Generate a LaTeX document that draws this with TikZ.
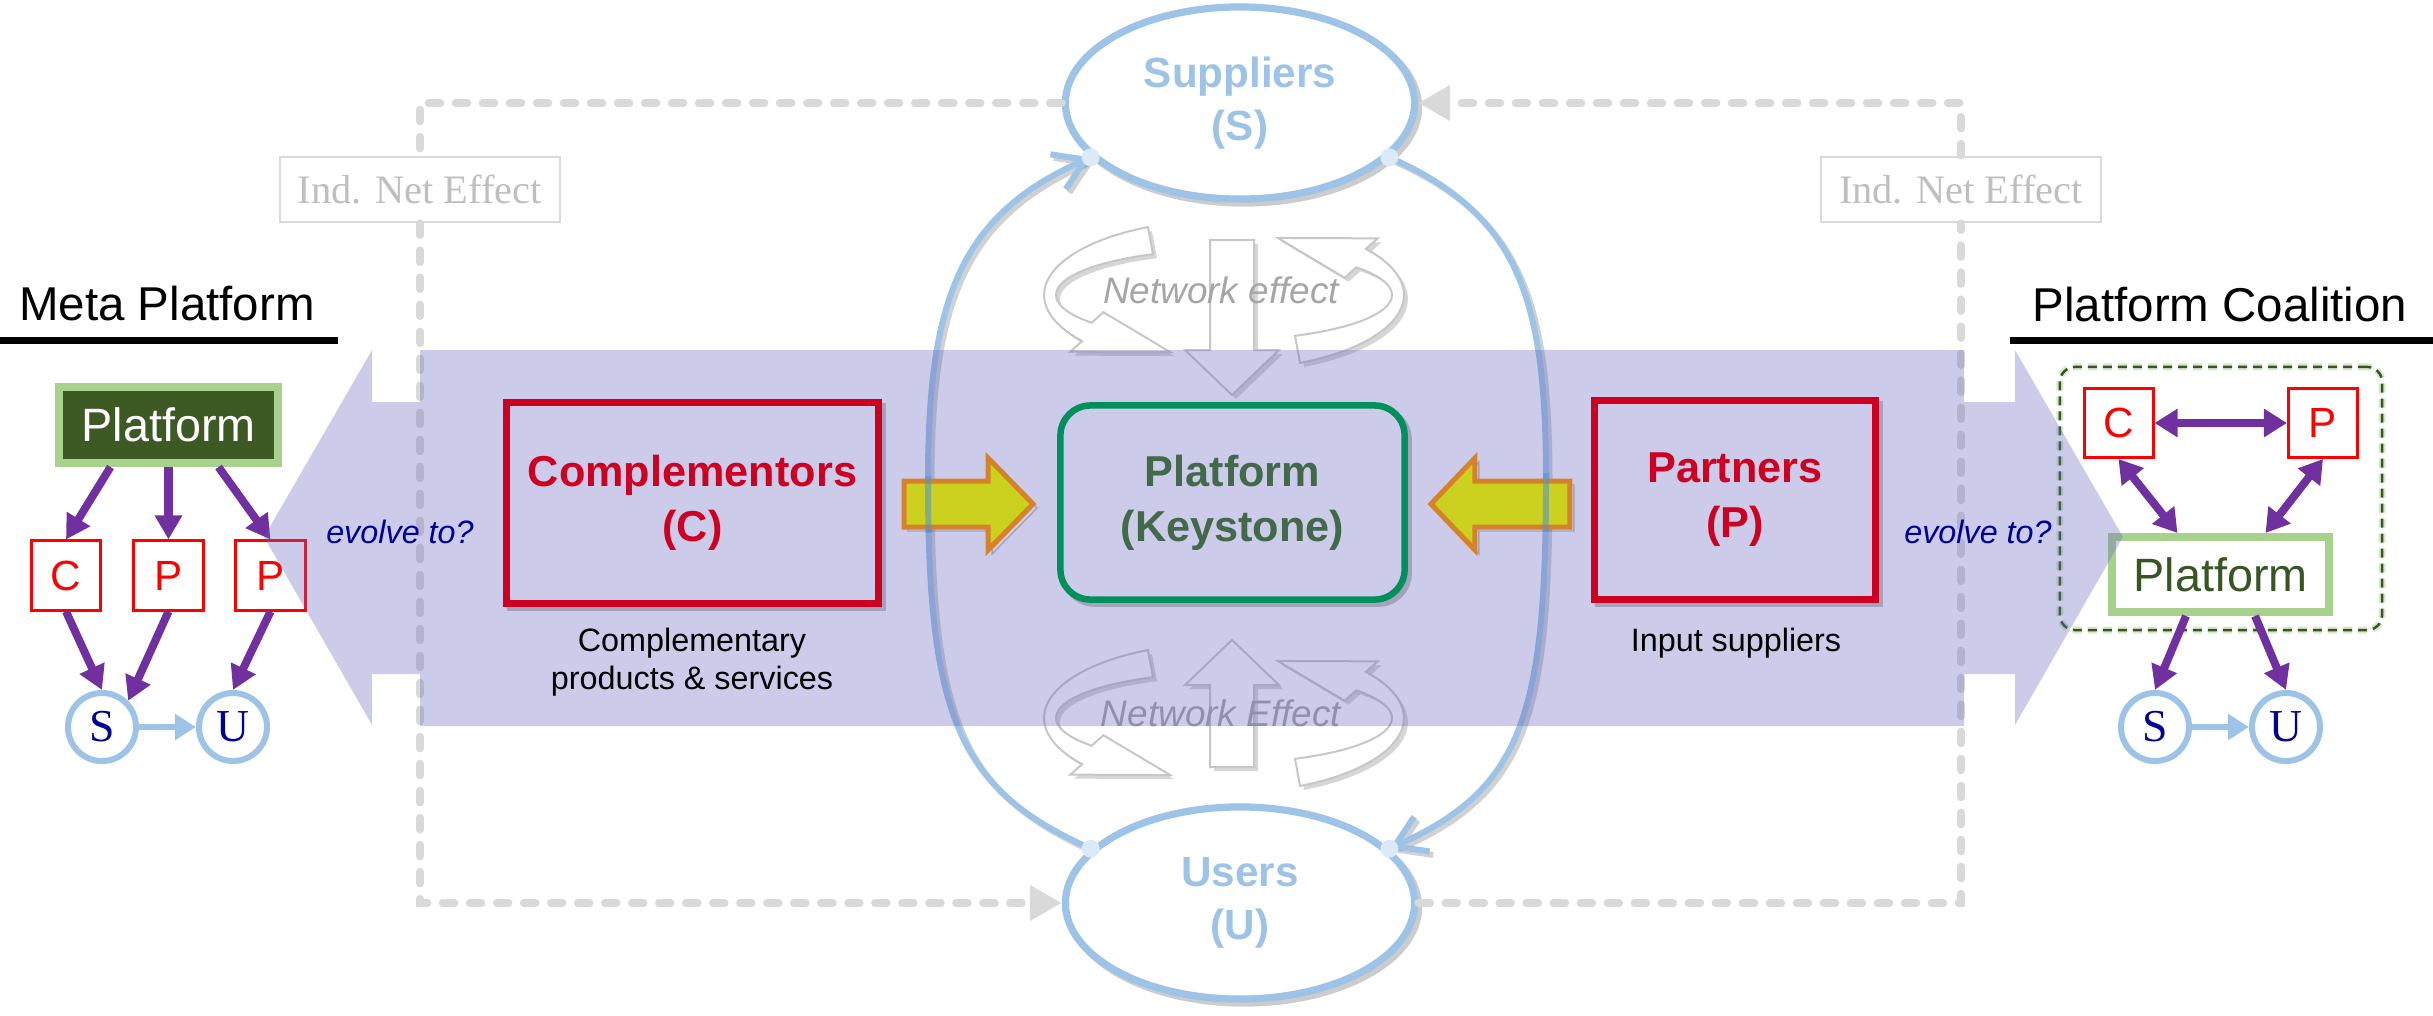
\documentclass[tikz,border=0pt]{standalone}
\usepackage{fontspec}
\setmainfont{Liberation Sans}
\newfontfamily\seriffont{Liberation Serif}
\usetikzlibrary{arrows.meta,shapes.geometric,calc}
\definecolor{bandc}{RGB}{102,102,192}
\definecolor{bandmix}{RGB}{204,204,234}
\definecolor{lblue}{RGB}{157,195,230}
\definecolor{curveblue}{RGB}{77,146,210}
\definecolor{dotc}{RGB}{220,233,246}
\definecolor{purp}{RGB}{112,48,160}
\definecolor{crim}{RGB}{206,0,34}
\definecolor{dgreen}{RGB}{61,90,37}
\definecolor{lgreen}{RGB}{169,209,142}
\definecolor{tgreen}{RGB}{0,144,92}
\definecolor{ktext}{RGB}{66,105,74}
\definecolor{dashg}{RGB}{217,217,217}
\definecolor{inetxt}{RGB}{191,191,191}
\definecolor{navy}{RGB}{0,0,153}
\definecolor{yfill}{RGB}{204,208,30}
\definecolor{yedge}{RGB}{214,130,42}
\definecolor{coalg}{RGB}{55,86,35}
\newcommand\netring[2]{%
 \path[netw] plot[domain=115:218,samples=25] ({#1+180*cos(\x)},{#2-75*sin(\x)}) -- ({#1+195*cos(218)},{#2-92*sin(218)}) -- ({#1+174*cos(252)},{#2-60*sin(252)}) -- ({#1+153*cos(218)},{#2-28*sin(218)}) -- plot[domain=218:115,samples=25] ({#1+168*cos(\x)},{#2-45*sin(\x)}) -- cycle;
 \path[netw] plot[domain=295:398,samples=25] ({#1+180*cos(\x)},{#2-75*sin(\x)}) -- ({#1+195*cos(398)},{#2-92*sin(398)}) -- ({#1+174*cos(432)},{#2-60*sin(432)}) -- ({#1+153*cos(398)},{#2-28*sin(398)}) -- plot[domain=398:295,samples=25] ({#1+168*cos(\x)},{#2-45*sin(\x)}) -- cycle;
}
\newcommand\loopcurves[1]{%
 \draw[#1] (usr.160) .. controls (960,790) and (928,720) .. (928,480) .. controls (928,300) and (960,215) .. (sup.200);
 \draw[#1] (sup.340) .. controls (1520,215) and (1546,300) .. (1546,480) .. controls (1546,720) and (1520,790) .. (usr.20);
}
\begin{document}
\begin{tikzpicture}[x=0.01cm,y=-0.01cm,
  shadowed/.style={preaction={draw=black,draw opacity=.2,fill=none,transform canvas={shift={(0.04cm,-0.04cm)}}}},
  titletext/.style={font=\fontsize{13.5}{16}\selectfont,inner sep=0,anchor=base},
  smallbox/.style={draw=red,line width=0.03cm,fill=white,minimum size=0.69cm,inner sep=0,font=\fontsize{12}{14}\selectfont,text=red},
  sucirc/.style={circle,draw=lblue,line width=0.06cm,fill=white,minimum size=0.68cm,inner sep=0,font=\seriffont\fontsize{13}{15}\selectfont,text=navy},
  pbox/.style={draw=lgreen,line width=0.08cm,inner sep=0,font=\fontsize{13.3}{16}\selectfont},
  parr/.style={draw=purp,line width=0.08cm,-{Triangle[length=0.24cm,width=0.26cm]}},
  pdarr/.style={draw=purp,line width=0.08cm,{Triangle[length=0.23cm,width=0.27cm]}-{Triangle[length=0.23cm,width=0.27cm]}},
  barr/.style={draw=lblue,line width=0.055cm,-{Triangle[length=0.21cm,width=0.25cm]}},
  bigbox/.style={draw=crim,line width=0.07cm,fill=bandmix,inner sep=0,font=\bfseries\fontsize{12.3}{15.6}\selectfont,text=crim,align=center,shadowed},
  keybox/.style={draw=tgreen,line width=0.065cm,rounded corners=0.3cm,fill=bandmix,inner sep=0,font=\bfseries\fontsize{12.3}{15.6}\selectfont,text=ktext,align=center,shadowed},
  ellnode/.style={ellipse,draw=lblue,line width=0.072cm,fill=white,minimum width=3.49cm,minimum height=1.92cm,inner sep=0,font=\bfseries\fontsize{12}{15.2}\selectfont,text=lblue,align=center,shadowed},
  dashln/.style={draw=dashg,line width=0.075cm,line cap=round,dash pattern=on 0.12cm off 0.15cm},
  dtip/.style={-{Triangle[length=0.32cm,width=0.34cm]}},
  inebox/.style={draw=dashg,line width=0.025cm,fill=white,minimum width=2.8cm,minimum height=0.65cm,inner sep=0,font=\seriffont\fontsize{11.5}{14}\selectfont,text=inetxt},
  netw/.style={fill=white,draw=black!22,line width=0.02cm,preaction={fill=black,fill opacity=.16,draw=none,transform canvas={shift={(0.04cm,-0.04cm)}}}},
  nettext/.style={font=\itshape\fontsize{10.5}{12}\selectfont,text=black!35,inner sep=0},
  curveshadow/.style={draw=black,draw opacity=.18,line width=0.06cm,line cap=round,-{Straight Barb[length=0.3cm,width=0.38cm]}},
  curvest/.style={draw=lblue,line width=0.06cm,line cap=round,-{Straight Barb[length=0.3cm,width=0.38cm]}},
  curvetop/.style={draw=curveblue,draw opacity=.55,line width=0.06cm,line cap=round},
  yarrow/.style={fill=yfill,draw=yedge,line width=0.05cm,line join=miter,shadowed},
  evo/.style={font=\itshape\fontsize{9.2}{11}\selectfont,text=navy,inner sep=0},
  desc/.style={font=\fontsize{9.2}{11}\selectfont,align=center,inner sep=0}
]
\useasboundingbox (0,0) rectangle (2433,1015);
\fill[white] (0,0) rectangle (2433,1015);

% ---------- left: Meta Platform ----------
\node[titletext] (mtitle) at (167,320) {Meta Platform};
\draw[line width=0.07cm] (0,340) -- (338,340);
\node[pbox,fill=dgreen,text=white,minimum width=2.19cm,minimum height=0.76cm] (lplat) at (168.5,425) {Platform};
\node[smallbox] (lc) at (66,575.5) {C};
\node[smallbox] (lp1) at (168.5,575.5) {P};
\node[smallbox] (lp2) at (270.5,575.5) {P};
\node[sucirc] (ls) at (102,727) {S};
\node[sucirc] (lu) at (233,727) {U};
\draw[parr] ([xshift=-0.58cm]lplat.south) -- (lc.north);
\draw[parr] (lplat.south) -- (lp1.north);
\draw[parr] ([xshift=0.5cm]lplat.south) -- (lp2.north);
\draw[parr] (lc.south) -- (ls.north);
\draw[parr] (lp1.south) -- (ls.45);
\draw[parr] (lp2.south) -- (lu.north);
\draw[barr] (ls) -- (lu);

% ---------- right: Platform Coalition ----------
\node[titletext] (ctitle) at (2220,321) {Platform Coalition};
\draw[line width=0.07cm] (2010,340) -- (2433,340);
\node[draw=coalg,line width=0.025cm,dash pattern=on 0.09cm off 0.06cm,rounded corners=0.15cm,minimum width=3.22cm,minimum height=2.63cm,inner sep=0,
  preaction={draw=lgreen,line width=0.07cm,draw opacity=.45}] (coal) at (2221,498.5) {};
\node[smallbox] (rc) at (2118.5,423) {C};
\node[smallbox] (rp) at (2323,423) {P};
\node[pbox,fill=white,text=coalg,minimum width=2.17cm,minimum height=0.75cm] (rplat) at (2220.5,574.5) {Platform};
\node[sucirc] (rs) at (2155,727) {S};
\node[sucirc] (ru) at (2286,727) {U};
\draw[pdarr] (rc.east) -- (rp.west);
\draw[pdarr] (rc.south) -- ([xshift=-0.43cm]rplat.north);
\draw[pdarr] (rp.south) -- ([xshift=0.45cm]rplat.north);
\draw[parr] ([xshift=-0.345cm]rplat.south) -- (rs.north);
\draw[parr] ([xshift=0.345cm]rplat.south) -- (ru.north);
\draw[barr] (rs) -- (ru);

% ---------- centre: suppliers / users ----------
\node[ellnode] (sup) at (1240,103) {Suppliers\\(S)};
\node[ellnode] (usr) at (1240,903) {Users\\(U)};
\node[inebox] (ineL) at (420,189.5) {Ind. Net Effect};
\node[inebox] (ineR) at (1961,189.5) {Ind. Net Effect};
\draw[dashln] (sup.west) -| (ineL.north);
\draw[dashln,dtip] (ineL.south) |- (usr.west);
\draw[dashln] (usr.east) -| (ineR.south);
\draw[dashln,dtip] (ineR.north) |- (sup.east);

% network effect icons
\path[netw] (1210,240) -- (1254,240) -- (1254,350) -- (1279,350) -- (1232,395) -- (1185,350) -- (1210,350) -- cycle;
\netring{1224}{295}
\node[nettext] (ne1) at (1221,290) {Network effect};
\path[netw] (1232,640) -- (1279,685) -- (1254,685) -- (1254,767) -- (1210,767) -- (1210,685) -- (1185,685) -- cycle;
\netring{1224}{718}
\node[nettext] (ne2) at (1221,713) {Network Effect};

% loop curves (shadow, then curve), under the band
\begin{scope}[transform canvas={shift={(0.035cm,-0.035cm)}}]
\loopcurves{curveshadow}
\end{scope}
\loopcurves{curvest}
\fill[dotc] (sup.200) circle (9);
\fill[dotc] (sup.340) circle (9);
\fill[dotc] (usr.160) circle (9);
\fill[dotc] (usr.20) circle (9);

% ---------- band with two arrows ----------
\fill[bandc,fill opacity=.33] (264,537) -- (372,350) -- (372,402) -- (420,402) -- (420,350) -- (1964,350) -- (1964,402) -- (2015,402) -- (2015,350) -- (2123,537) -- (2015,725) -- (2015,674) -- (1964,674) -- (1964,726) -- (420,726) -- (420,674) -- (372,674) -- (372,725) -- cycle;

% ---------- boxes on the band ----------
\node[bigbox,minimum width=3.72cm,minimum height=2.01cm] (comp) at (692.5,503) {Complementors\\(C)};
\node[bigbox,minimum width=2.81cm,minimum height=1.99cm] (part) at (1735,500) {Partners\\(P)};
\node[keybox,minimum width=3.44cm,minimum height=1.94cm] (key) at (1232.5,502.5) {Platform\\(Keystone)};
\node[desc] (compd) at (692,662) {Complementary\\products \& services};
\node[desc] (partd) at (1736,643) {Input suppliers};
\coordinate (yl) at ([xshift=0.22cm]comp.east);
\coordinate (yr) at ([xshift=-0.21cm,yshift=-0.03cm]part.west);
\draw[yarrow] (yl) ++(0,-22) -- ++(84,0) -- ++(0,-23) -- ++(45,46) -- ++(-45,46) -- ++(0,-23) -- ++(-84,0) -- cycle;
\draw[yarrow] (yr) ++(0,-22) -- ++(-95,0) -- ++(0,-23) -- ++(-44,46) -- ++(44,46) -- ++(0,-23) -- ++(95,0) -- cycle;

% curves seen through the yellow arrows
\begin{scope}
\clip (904,476) rectangle (986,532);
\loopcurves{curvetop}
\end{scope}
\begin{scope}
\clip (1477,473) rectangle (1570,529);
\loopcurves{curvetop}
\end{scope}

\node[evo] (evl) at (400,532) {evolve to?};
\node[evo] (evr) at (1978,532) {evolve to?};
\end{tikzpicture}
\end{document}
